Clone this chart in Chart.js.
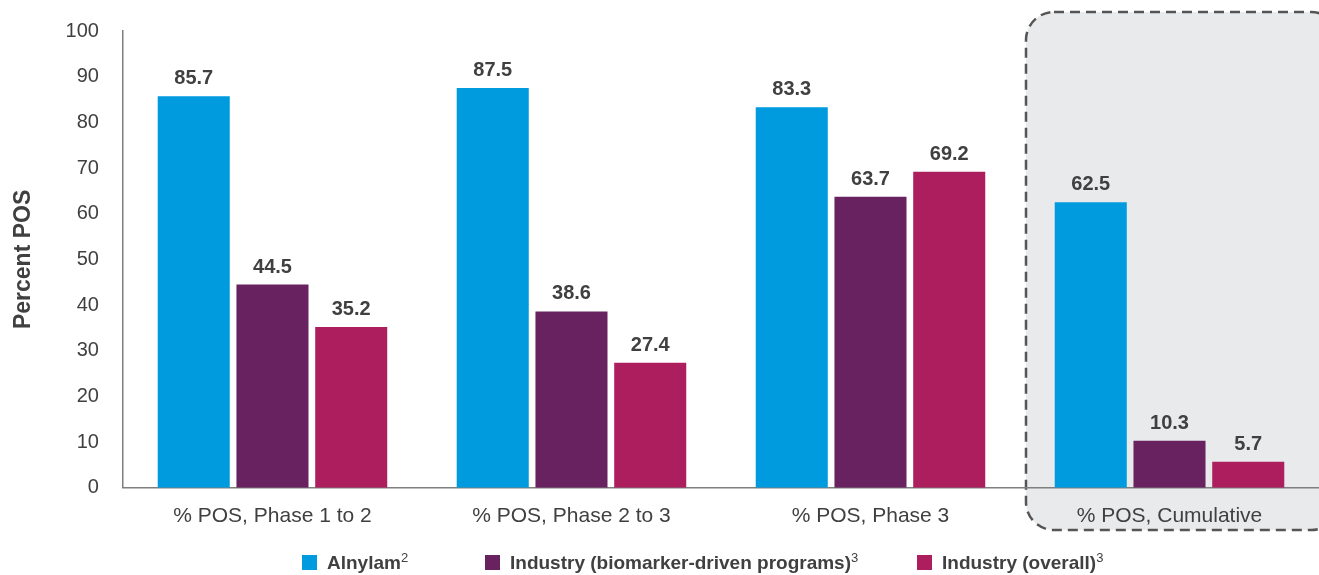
<!DOCTYPE html>
<html>
<head>
<meta charset="utf-8">
<script src="https://cdn.jsdelivr.net/npm/chart.js@4"></script>
<style>
  html, body { margin: 0; padding: 0; background: #fff; }
  #wrap { width: 1319px; height: 575px; position: relative; }
  #legend { position: absolute; left: 0; top: 550px; width: 1319px; height: 24px;
            font: bold 19px "Liberation Sans", Arial, sans-serif; color: #404040; white-space: nowrap; }
  #legend .item { position: absolute; top: 0; display: flex; align-items: center; height: 24px; }
  #legend .box { width: 15px; height: 15px; margin-right: 10px; }
</style>
</head>
<body>
<div id="wrap"><canvas id="myChart"></canvas><div id="legend"></div></div>
<script>
// values
const categories = ['% POS, Phase 1 to 2', '% POS, Phase 2 to 3', '% POS, Phase 3', '% POS, Cumulative'];
const alnylam = [85.7, 87.5, 83.3, 62.5];
const industryBiomarker = [44.5, 38.6, 63.7, 10.3];
const industryOverall = [35.2, 27.4, 69.2, 5.7];
const seriesNames = ['Alnylam', 'Industry (biomarker-driven programs)', 'Industry (overall)'];
const seriesNotes = ['2', '3', '3'];
const seriesColors = ['#009ade', '#68225f', '#ad1e5f'];
const yTicks = [0, 10, 20, 30, 40, 50, 60, 70, 80, 90, 100];

const FONT = '"Liberation Sans", Arial, sans-serif';
const TEXT = '#404040';

// grey rounded dashed box behind the cumulative group
const highlightBox = {
  id: 'highlightBox',
  beforeDraw(chart) {
    const { ctx, scales: { x } } = chart;
    const w = x.width / categories.length;
    const left = x.getPixelForValue(3) - w / 2 + 6;
    const right = chart.width + 20;
    const top = 12;
    const bottom = 530;
    ctx.save();
    ctx.beginPath();
    ctx.roundRect(left, top, right - left, bottom - top, 28);
    ctx.fillStyle = '#e9eaeb';
    ctx.fill();
    ctx.setLineDash([10, 6]);
    ctx.lineWidth = 2.5;
    ctx.strokeStyle = '#555';
    ctx.stroke();
    ctx.restore();
  }
};

// value labels above bars
const valueLabels = {
  id: 'valueLabels',
  afterDatasetsDraw(chart) {
    const { ctx } = chart;
    ctx.save();
    ctx.font = 'bold 20px ' + FONT;
    ctx.fillStyle = TEXT;
    ctx.textAlign = 'center';
    ctx.textBaseline = 'alphabetic';
    chart.data.datasets.forEach((ds, i) => {
      chart.getDatasetMeta(i).data.forEach((bar, j) => {
        ctx.fillText(ds.data[j].toFixed(1), bar.x, bar.y - 12);
      });
    });
    ctx.restore();
  }
};

const ctx = document.getElementById('myChart').getContext('2d');
const myChart = new Chart(ctx, {
  type: 'bar',
  data: {
    labels: categories,
    datasets: seriesNames.map((name, i) => ({
      label: name,
      data: [alnylam, industryBiomarker, industryOverall][i],
      backgroundColor: seriesColors[i]
    }))
  },
  options: {
    responsive: true,
    maintainAspectRatio: false,
    animation: false,
    categoryPercentage: 0.79,
    barPercentage: 0.915,
    layout: { padding: { top: 31, right: 0, left: 6, bottom: 38 } },
    plugins: {
      tooltip: { enabled: false },
      legend: { display: false }
    },
    scales: {
      x: {
        grid: { display: false },
        border: { display: true, color: '#7f7f7f', width: 1.5 },
        ticks: { color: TEXT, padding: 8, font: { family: FONT, size: 21 } }
      },
      y: {
        min: 0,
        max: 100,
        afterBuildTicks(axis) { axis.ticks = yTicks.map(v => ({ value: v })); },
        grid: { display: false },
        border: { display: true, color: '#7f7f7f', width: 1.5 },
        ticks: { color: TEXT, padding: 16, font: { family: FONT, size: 20 } },
        title: {
          display: true,
          text: 'Percent POS',
          color: TEXT,
          padding: { bottom: 12 },
          font: { family: FONT, size: 23, weight: 'bold' }
        }
      }
    }
  },
  plugins: [highlightBox, valueLabels]
});

// legend as real text with superscript notes
const itemLeft = [302, 485, 917];
const legend = document.getElementById('legend');
seriesNames.forEach((name, i) => {
  const item = document.createElement('div');
  item.className = 'item';
  item.style.left = itemLeft[i] + 'px';
  item.innerHTML = '<span class="box" style="background:' + seriesColors[i] + '"></span>' +
    '<span>' + name + '<sup style="font-size:13px;font-weight:normal">' + seriesNotes[i] + '</sup></span>';
  legend.appendChild(item);
});
</script>
</body>
</html>
